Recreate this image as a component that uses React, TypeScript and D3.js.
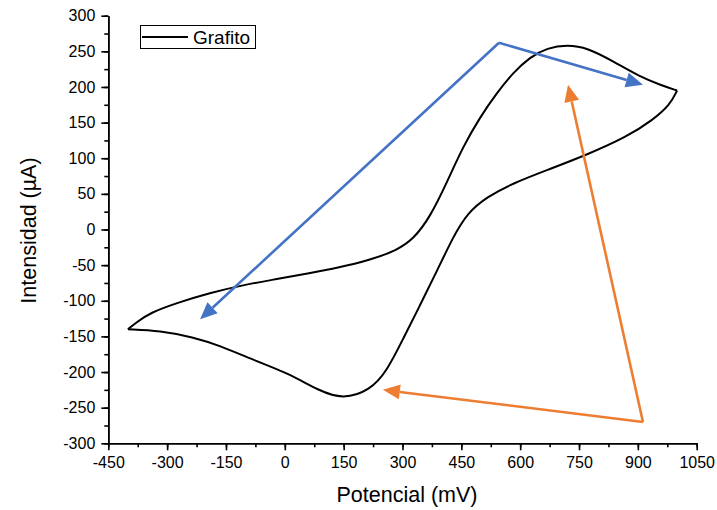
import React, { useEffect, useRef } from 'react';
import * as d3 from 'd3';

// forward scan (mV, µA)
const forwardMV = [-400, -377, -344, -275, -191, -107, -20, 64, 133, 217, 286, 327, 370, 414, 454, 498, 541, 582, 625, 669, 720, 771, 837, 906, 957, 1000];
const forwardUA = [-140, -130, -117, -103, -89, -78, -69.5, -61, -54, -43, -29, -14, 17, 67, 116, 158, 192, 220, 242, 255, 259, 255, 236, 214, 203, 195];
// reverse scan
const reverseMV = [1000, 982, 939, 872, 771, 669, 582, 516, 465, 429, 388, 345, 301, 261, 217, 148, 90, 6, -81, -165, -234, -318, -400];
const reverseUA = [195, 175, 154, 130, 105, 83.5, 65, 46, 23, -10.5, -58, -106, -154, -198, -226, -238, -227, -201, -183, -163, -151, -142, -140];

const xTicks = [-450, -300, -150, 0, 150, 300, 450, 600, 750, 900, 1050];
const yTicks = [-300, -250, -200, -150, -100, -50, 0, 50, 100, 150, 200, 250, 300];

// annotation arrows: [from, to] in data units
const blueArrows = [
  [[546, 262], [-216, -126]],
  [[546, 262], [913, 203]],
];
const orangeArrows = [
  [[913, -270], [250, -225]],
  [[913, -270], [722, 203]],
];

export default function App() {
  const svgRef = useRef<SVGSVGElement>(null);
  const width = 717;
  const height = 510;

  useEffect(() => {
    const svg = d3.select(svgRef.current);
    svg.selectAll('*').remove();

    const x = d3.scaleLinear().domain([-450, 1050]).range([108.3, 696.7]);
    const y = d3.scaleLinear().domain([-300, 300]).range([443.3, 15.7]);

    const font = 'Arial, "Liberation Sans", sans-serif';

    // minor ticks
    const xMinor = d3.range(-450, 1051, 75);
    const yMinor = d3.range(-300, 301, 25);

    const gx = svg.append('g').attr('transform', `translate(0,${y(-300)})`);
    gx.call(d3.axisBottom(x).tickValues(xMinor).tickSize(4).tickFormat(() => '').tickSizeOuter(0));
    gx.append('g').call(d3.axisBottom(x).tickValues(xTicks).tickSize(7).tickSizeOuter(0).tickPadding(6).tickFormat(d => String(d)));
    gx.selectAll('path.domain').attr('stroke', '#000').attr('stroke-width', 1.6);
    gx.selectAll('line').attr('stroke', '#000').attr('stroke-width', 1.6);
    gx.selectAll('text').attr('font-family', font).attr('font-size', 16).attr('fill', '#000');

    const gy = svg.append('g').attr('transform', `translate(${x(-450)},0)`);
    gy.call(d3.axisLeft(y).tickValues(yMinor).tickSize(4).tickFormat(() => '').tickSizeOuter(0));
    gy.append('g').call(d3.axisLeft(y).tickValues(yTicks).tickSize(7).tickSizeOuter(0).tickPadding(6).tickFormat(d => String(d)));
    gy.selectAll('path.domain').attr('stroke', '#000').attr('stroke-width', 1.6);
    gy.selectAll('line').attr('stroke', '#000').attr('stroke-width', 1.6);
    gy.selectAll('text').attr('font-family', font).attr('font-size', 16).attr('fill', '#000');

    // axis titles
    svg.append('text')
      .attr('x', 407)
      .attr('y', 502)
      .attr('text-anchor', 'middle')
      .attr('font-family', font)
      .attr('font-size', 21.5)
      .text('Potencial (mV)');

    svg.append('text')
      .attr('transform', `translate(36,${(y(-300) + y(300)) / 2 + 1}) rotate(-90)`)
      .attr('text-anchor', 'middle')
      .attr('font-family', font)
      .attr('font-size', 21.5)
      .text('Intensidad (µA)');

    // CV curve, one path per scan direction so the vertices stay sharp
    const line = d3.line<[number, number]>()
      .x(d => x(d[0]))
      .y(d => y(d[1]))
      .curve(d3.curveBasis);
    const forward = forwardMV.map((v, i) => [v, forwardUA[i]] as [number, number]);
    const reverse = reverseMV.map((v, i) => [v, reverseUA[i]] as [number, number]);
    [forward, reverse].forEach(branch => {
      svg.append('path')
        .datum(branch)
        .attr('d', line)
        .attr('fill', 'none')
        .attr('stroke', '#000')
        .attr('stroke-width', 2)
        .attr('stroke-linejoin', 'round');
    });

    // arrows
    const drawArrow = (from: number[], to: number[], color: string) => {
      const x1 = x(from[0]), y1 = y(from[1]);
      const x2 = x(to[0]), y2 = y(to[1]);
      const ang = Math.atan2(y2 - y1, x2 - x1);
      const headLen = 17, headW = 7.5;
      const bx = x2 - headLen * Math.cos(ang), by = y2 - headLen * Math.sin(ang);
      svg.append('line')
        .attr('x1', x1).attr('y1', y1)
        .attr('x2', bx).attr('y2', by)
        .attr('stroke', color)
        .attr('stroke-width', 2.6);
      const px = -Math.sin(ang) * headW, py = Math.cos(ang) * headW;
      svg.append('path')
        .attr('d', `M${x2},${y2}L${bx + px},${by + py}L${bx - px},${by - py}Z`)
        .attr('fill', color);
    };
    blueArrows.forEach(a => drawArrow(a[0], a[1], '#4472C4'));
    orangeArrows.forEach(a => drawArrow(a[0], a[1], '#ED7D31'));

    // legend
    const lg = svg.append('g');
    lg.append('rect')
      .attr('x', 140.5).attr('y', 25.5)
      .attr('width', 115).attr('height', 23)
      .attr('fill', '#fff')
      .attr('stroke', '#000')
      .attr('stroke-width', 1);
    lg.append('line')
      .attr('x1', 142).attr('x2', 188)
      .attr('y1', 37).attr('y2', 37)
      .attr('stroke', '#000')
      .attr('stroke-width', 2);
    lg.append('text')
      .attr('x', 193).attr('y', 44)
      .attr('font-family', font)
      .attr('font-size', 19)
      .text('Grafito');
  }, []);

  return (
    <svg
      ref={svgRef}
      width={width}
      height={height}
      style={{ position: 'absolute', left: 0, top: 0, background: '#fff' }}
    />
  );
}
